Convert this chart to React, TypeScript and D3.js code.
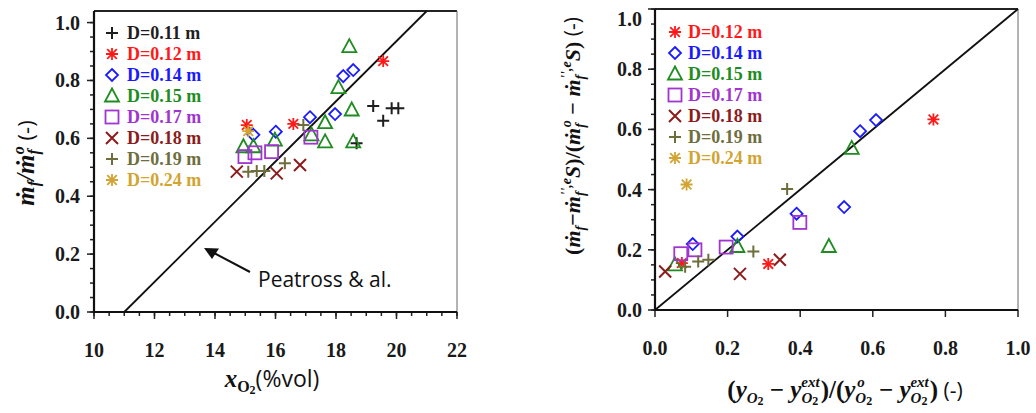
import React from 'react';
import * as d3 from 'd3';

// ---------- tick values ----------
const leftXTicks = [10, 12, 14, 16, 18, 20, 22];
const leftYTicks = [0, 0.2, 0.4, 0.6, 0.8, 1.0];
const rightXTicks = [0, 0.2, 0.4, 0.6, 0.8, 1.0];
const rightYTicks = [0, 0.2, 0.4, 0.6, 0.8, 1.0];

// ---------- legend labels ----------
const leftLegend = ['D=0.11 m', 'D=0.12 m', 'D=0.14 m', 'D=0.15 m', 'D=0.17 m', 'D=0.18 m', 'D=0.19 m', 'D=0.24 m'];
const rightLegend = ['D=0.12 m', 'D=0.14 m', 'D=0.15 m', 'D=0.17 m', 'D=0.18 m', 'D=0.19 m', 'D=0.24 m'];

// ---------- left panel data: [x_O2 (%vol), mf/mf0] ----------
const leftD011 = [[19.23, 0.712], [19.56, 0.661], [19.84, 0.704], [20.06, 0.704], [18.68, 0.583]];
const leftD012 = [[19.56, 0.867], [16.59, 0.65], [15.05, 0.646]];
const leftD014 = [[18.24, 0.815], [18.57, 0.836], [17.97, 0.684], [17.14, 0.673], [16.01, 0.623], [15.27, 0.612]];
const leftD015 = [[18.44, 0.917], [18.08, 0.775], [18.52, 0.698], [17.64, 0.654], [17.19, 0.612], [17.64, 0.588], [18.57, 0.588], [15.98, 0.594], [14.94, 0.571], [15.27, 0.571]];
const leftD017 = [[17.17, 0.604], [15.87, 0.554], [15.32, 0.55], [14.99, 0.537]];
const leftD018 = [[14.72, 0.485], [16.04, 0.479], [16.81, 0.508]];
const leftD019 = [[15.1, 0.485], [15.38, 0.487], [15.63, 0.487], [16.31, 0.514], [16.92, 0.646]];
const leftD024 = [[15.1, 0.625]];
// Peatross & al. correlation line end points
const peatrossLine = [[11, 0], [21.0, 1.04]];

// ---------- right panel data ----------
const rightD012 = [[0.767, 0.633], [0.074, 0.156], [0.312, 0.153]];
const rightD014 = [[0.565, 0.594], [0.609, 0.631], [0.521, 0.342], [0.39, 0.32], [0.227, 0.244], [0.104, 0.219]];
const rightD015 = [[0.542, 0.537], [0.479, 0.211], [0.227, 0.211], [0.055, 0.15]];
const rightD017 = [[0.399, 0.291], [0.196, 0.209], [0.11, 0.2], [0.071, 0.187]];
const rightD018 = [[0.028, 0.128], [0.234, 0.12], [0.344, 0.167]];
const rightD019 = [[0.364, 0.402], [0.271, 0.194], [0.083, 0.144], [0.119, 0.161], [0.147, 0.167]];
const rightD024 = [[0.087, 0.417]];
const parityLine = [[0, 0], [1, 1]];

// ---------- styles ----------
const C = {
  d011: '#1e1e1e',
  d012: '#ff1a1a',
  d014: '#1a1aff',
  d015: '#1e8c1e',
  d017: '#a035d0',
  d018: '#8b1c1c',
  d019: '#6e6e3c',
  d024: '#d2a431',
};

const leftSeries = [
  { data: leftD011, kind: 'plus', color: C.d011 },
  { data: leftD012, kind: 'star', color: C.d012 },
  { data: leftD014, kind: 'diamond', color: C.d014 },
  { data: leftD015, kind: 'triangle', color: C.d015 },
  { data: leftD017, kind: 'square', color: C.d017 },
  { data: leftD018, kind: 'x', color: C.d018 },
  { data: leftD019, kind: 'plus', color: C.d019 },
  { data: leftD024, kind: 'star', color: C.d024 },
];
const rightSeries = [
  { data: rightD012, kind: 'star', color: C.d012 },
  { data: rightD014, kind: 'diamond', color: C.d014 },
  { data: rightD015, kind: 'triangle', color: C.d015 },
  { data: rightD017, kind: 'square', color: C.d017 },
  { data: rightD018, kind: 'x', color: C.d018 },
  { data: rightD019, kind: 'plus', color: C.d019 },
  { data: rightD024, kind: 'star', color: C.d024 },
];

const SERIF = '"Liberation Serif", "DejaVu Serif", serif';
const SANS = '"Open Sans", "Liberation Sans", sans-serif';

function Marker({ kind, x, y, color }: { kind: string; x: number; y: number; color: string }) {
  const s = 6;
  const sw = 1.8;
  switch (kind) {
    case 'plus':
      return <path d={`M${x - s},${y}H${x + s}M${x},${y - s}V${y + s}`} stroke={color} strokeWidth={2} fill="none" />;
    case 'star': {
      const a = s * 0.8;
      return (
        <path
          d={`M${x},${y - s}V${y + s}M${x - s},${y}H${x + s}M${x - a},${y - a}L${x + a},${y + a}M${x - a},${y + a}L${x + a},${y - a}`}
          stroke={color}
          strokeWidth={1.8}
          fill="none"
        />
      );
    }
    case 'diamond':
      return <path d={`M${x},${y - 6}L${x + 6},${y}L${x},${y + 6}L${x - 6},${y}Z`} stroke={color} strokeWidth={sw} fill="none" />;
    case 'triangle':
      return <path d={`M${x},${y - 7.5}L${x + 7},${y + 5.5}L${x - 7},${y + 5.5}Z`} stroke={color} strokeWidth={sw} fill="none" />;
    case 'square':
      return <rect x={x - 6.5} y={y - 6.5} width={13} height={13} stroke={color} strokeWidth={sw} fill="none" />;
    case 'x':
      return <path d={`M${x - s},${y - s}L${x + s},${y + s}M${x - s},${y + s}L${x + s},${y - s}`} stroke={color} strokeWidth={2} fill="none" />;
    default:
      return null;
  }
}

export default function App() {
  // left panel scales
  const lx = d3.scaleLinear().domain([10, 22]).range([94, 457]);
  const ly = d3.scaleLinear().domain([0, 1.04]).range([312, 11]);
  // right panel scales
  const rx = d3.scaleLinear().domain([0, 1]).range([655, 1018]);
  const ry = d3.scaleLinear().domain([0, 1]).range([310, 9]);

  const line = (xs: any, ys: any) => d3.line<number[]>().x((d) => xs(d[0])).y((d) => ys(d[1]));

  const leftMinorY = d3.range(0, 1.0001, 0.05);
  const leftMinorX = d3.range(10, 22.001, 0.5);
  const rightMinorY = d3.range(0, 1.0001, 0.05);

  const tickStyle = { fontFamily: SERIF, fontWeight: 'bold' as const, fontSize: 20, fill: '#1a1a1a' };
  const legStyle = { fontFamily: SERIF, fontWeight: 'bold' as const, fontSize: 18 };

  return (
    <svg width={1036} height={413} style={{ position: 'absolute', left: 0, top: 0, display: 'block', background: '#fff' }}>
      {/* ================= LEFT PANEL ================= */}
      <g>
        {/* frame */}
        <line x1={lx(10)} x2={lx(22)} y1={11} y2={11} stroke="#222" strokeWidth={2} />
        <line x1={lx(22)} x2={lx(22)} y1={11} y2={312} stroke="#666" strokeWidth={1} />
        {/* minor ticks */}
        {leftMinorY.map((v, i) => (
          <line key={'lmy' + i} x1={lx(10) - 4} x2={lx(10)} y1={ly(v)} y2={ly(v)} stroke="#222" strokeWidth={1.5} />
        ))}
        {leftYTicks.map((v, i) => (
          <line key={'lMy' + i} x1={lx(10) - 7} x2={lx(10)} y1={ly(v)} y2={ly(v)} stroke="#222" strokeWidth={1.5} />
        ))}
        {leftMinorX.map((v, i) => (
          <line key={'lmx' + i} x1={lx(v)} x2={lx(v)} y1={312} y2={316} stroke="#222" strokeWidth={1.5} />
        ))}
        {leftXTicks.map((v, i) => (
          <line key={'lMx' + i} x1={lx(v)} x2={lx(v)} y1={312} y2={319} stroke="#222" strokeWidth={1.5} />
        ))}
        {/* axes */}
        <line x1={lx(10)} x2={lx(10)} y1={11} y2={313} stroke="#111" strokeWidth={2.2} />
        <line x1={lx(10) - 1} x2={lx(22)} y1={312} y2={312} stroke="#111" strokeWidth={2.2} />
        {/* tick labels */}
        {leftYTicks.map((v, i) => (
          <text key={'lyt' + i} x={80} y={ly(v)} dy="0.35em" textAnchor="end" {...tickStyle}>
            {v.toFixed(1)}
          </text>
        ))}
        {leftXTicks.map((v, i) => (
          <text key={'lxt' + i} x={lx(v)} y={350} dy="0.35em" textAnchor="middle" {...tickStyle}>
            {v}
          </text>
        ))}
        {/* Peatross line */}
        <path d={line(lx, ly)(peatrossLine as any) || ''} stroke="#111" strokeWidth={1.8} fill="none" />
        {/* arrow & annotation */}
        <line x1={250} y1={272} x2={214} y2={253} stroke="#111" strokeWidth={2} />
        <path d="M204,248 L219,248.5 L212,259 Z" fill="#111" />
        <text x={258} y={287} fontFamily={SANS} fontSize={21} fill="#111">
          Peatross &amp; al.
        </text>
        {/* data */}
        {leftSeries.map((s, si) =>
          s.data.map((d, di) => <Marker key={`l${si}-${di}`} kind={s.kind} x={lx(d[0])} y={ly(d[1])} color={s.color} />)
        )}
        {/* legend */}
        {leftLegend.map((lab, i) => {
          const yy = 33 + i * 21;
          const s = leftSeries[i];
          return (
            <g key={'ll' + i}>
              <Marker kind={s.kind} x={112} y={yy} color={s.color} />
              <text x={127} y={yy} dy="0.35em" {...legStyle} fill={s.color}>
                {lab}
              </text>
            </g>
          );
        })}
        {/* axis titles */}
        <text
          transform="translate(34,163) rotate(-90)"
          textAnchor="middle"
          fontFamily={SERIF}
          fontWeight="bold"
          fontStyle="italic"
          fontSize={25}
          fill="#111"
        >
          ṁ<tspan fontSize={16} dy={5}>f</tspan>
          <tspan dy={-5}>/ṁ</tspan>
          <tspan fontSize={16} dy={5}>f</tspan>
          <tspan fontSize={16} dx={-5} dy={-15}>o</tspan>
          <tspan dy={10} fontStyle="normal" fontWeight="normal" fontFamily={SANS} fontSize={22}>
            {' (-)'}
          </tspan>
        </text>
        <text x={272} y={387} textAnchor="middle" fontFamily={SERIF} fontWeight="bold" fontStyle="italic" fontSize={25} fill="#111">
          x<tspan fontSize={16} dy={5} fontStyle="normal">O</tspan>
          <tspan fontSize={12} dy={2} fontStyle="normal">2</tspan>
          <tspan dy={-7} fontStyle="normal" fontWeight="normal" fontFamily={SANS} fontSize={23}>
            (%vol)
          </tspan>
        </text>
      </g>

      {/* ================= RIGHT PANEL ================= */}
      <g>
        <line x1={rx(0)} x2={rx(1)} y1={ry(1)} y2={ry(1)} stroke="#222" strokeWidth={2} />
        <line x1={rx(1)} x2={rx(1)} y1={ry(1)} y2={ry(0)} stroke="#666" strokeWidth={1} />
        {rightMinorY.map((v, i) => (
          <line key={'rmy' + i} x1={rx(0) - 4} x2={rx(0)} y1={ry(v)} y2={ry(v)} stroke="#222" strokeWidth={1.5} />
        ))}
        {rightYTicks.map((v, i) => (
          <line key={'rMy' + i} x1={rx(0) - 7} x2={rx(0)} y1={ry(v)} y2={ry(v)} stroke="#222" strokeWidth={1.5} />
        ))}
        {rightXTicks.map((v, i) => (
          <line key={'rMx' + i} x1={rx(v)} x2={rx(v)} y1={ry(0)} y2={ry(0) + 7} stroke="#222" strokeWidth={1.5} />
        ))}
        <line x1={rx(0)} x2={rx(0)} y1={ry(1)} y2={ry(0) + 1} stroke="#111" strokeWidth={2.2} />
        <line x1={rx(0) - 1} x2={rx(1)} y1={ry(0)} y2={ry(0)} stroke="#111" strokeWidth={2.2} />
        {rightYTicks.map((v, i) => (
          <text key={'ryt' + i} x={642} y={Math.max(ry(v), 19)} dy="0.35em" textAnchor="end" {...tickStyle}>
            {v.toFixed(1)}
          </text>
        ))}
        {rightXTicks.map((v, i) => (
          <text key={'rxt' + i} x={Math.min(rx(v), 1020)} y={348} dy="0.35em" textAnchor="middle" {...tickStyle}>
            {v.toFixed(1)}
          </text>
        ))}
        <path d={line(rx, ry)(parityLine as any) || ''} stroke="#111" strokeWidth={1.8} fill="none" />
        {rightSeries.map((s, si) =>
          s.data.map((d, di) => <Marker key={`r${si}-${di}`} kind={s.kind} x={rx(d[0])} y={ry(d[1])} color={s.color} />)
        )}
        {rightLegend.map((lab, i) => {
          const yy = 32 + i * 21;
          const s = rightSeries[i];
          return (
            <g key={'rl' + i}>
              <Marker kind={s.kind} x={675} y={yy} color={s.color} />
              <text x={688} y={yy} dy="0.35em" {...legStyle} fill={s.color}>
                {lab}
              </text>
            </g>
          );
        })}
        {/* right y title */}
        <text
          transform="translate(580,136) rotate(-90)"
          textAnchor="middle"
          fontFamily={SERIF}
          fontWeight="bold"
          fontStyle="italic"
          fontSize={22}
          fill="#111"
        >
          <tspan fontStyle="normal">(</tspan>ṁ<tspan fontSize={14} dy={5}>f</tspan>
          <tspan dy={-5} fontStyle="normal">−</tspan>ṁ<tspan fontSize={14} dy={5}>f</tspan>
          <tspan fontSize={14} dx={-4} dy={-14}>'',e</tspan>
          <tspan dy={9}>S</tspan>
          <tspan fontStyle="normal">)/(</tspan>ṁ<tspan fontSize={14} dy={5}>f</tspan>
          <tspan fontSize={14} dx={-4} dy={-14}>o</tspan>
          <tspan dy={9} fontStyle="normal">{' − '}</tspan>ṁ<tspan fontSize={14} dy={5}>f</tspan>
          <tspan fontSize={14} dx={-4} dy={-14}>'',e</tspan>
          <tspan dy={9}>S</tspan>
          <tspan fontStyle="normal">)</tspan>
          <tspan fontStyle="normal" fontWeight="normal" fontFamily={SANS} fontSize={21}>
            {' (-)'}
          </tspan>
        </text>
        {/* right x title */}
        <text x={845} y={398} textAnchor="middle" fontFamily={SERIF} fontWeight="bold" fontStyle="italic" fontSize={25} fill="#111">
          <tspan fontStyle="normal">(</tspan>y<tspan fontSize={15} dy={5}>O</tspan>
          <tspan fontSize={12} dy={2} fontStyle="normal">2</tspan>
          <tspan dy={-7} fontStyle="normal">{' − '}</tspan>y<tspan fontSize={15} dy={5}>O</tspan>
          <tspan fontSize={12} dy={2} fontStyle="normal">2</tspan>
          <tspan fontSize={15} dx={-17} dy={-18}>ext</tspan>
          <tspan dy={11} dx={1} fontStyle="normal">)/(</tspan>y<tspan fontSize={15} dy={5}>O</tspan>
          <tspan fontSize={12} dy={2} fontStyle="normal">2</tspan>
          <tspan fontSize={15} dx={-15} dy={-18}>o</tspan>
          <tspan dy={11} dx={8} fontStyle="normal">{' − '}</tspan>y<tspan fontSize={15} dy={5}>O</tspan>
          <tspan fontSize={12} dy={2} fontStyle="normal">2</tspan>
          <tspan fontSize={15} dx={-17} dy={-18}>ext</tspan>
          <tspan dy={11} dx={1} fontStyle="normal">)</tspan>
          <tspan fontStyle="normal" fontWeight="normal" fontFamily={SANS} fontSize={21}>
            {' (-)'}
          </tspan>
        </text>
      </g>
    </svg>
  );
}
